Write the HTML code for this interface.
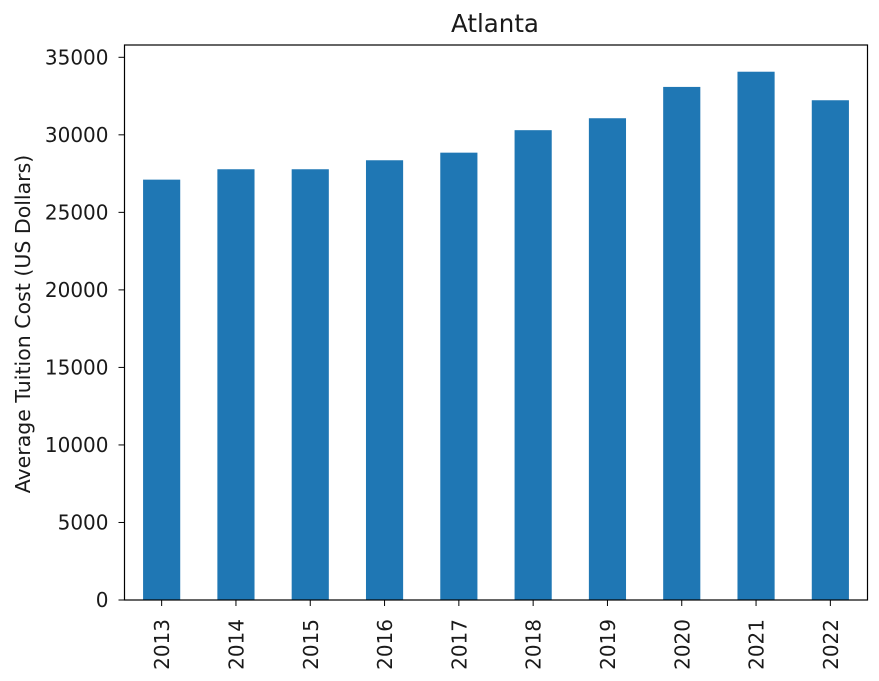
<!DOCTYPE html>
<html><head><meta charset="utf-8"><style>
body{margin:0;background:#fff}
text{font-family:"DejaVu Sans","Liberation Sans",sans-serif;fill:#1a1a1a}
</style></head><body>
<svg id="chart" width="879" height="676">
<text x="495" y="32" font-size="24.5" text-anchor="middle">Atlanta</text>
<text transform="translate(30,324) rotate(-90)" font-size="20.5" text-anchor="middle">Average Tuition Cost (US Dollars)</text>
<g id="bars"></g><g id="yticks"></g><g id="xticks"></g>
<rect x="124.5" y="45" width="743" height="555" fill="none" stroke="#000" stroke-width="1.2"/>
</svg>
<script>
const categories=["2013","2014","2015","2016","2017","2018","2019","2020","2021","2022"];
const tuition=[27110,27780,27780,28360,28850,30300,31070,33090,34070,32230];
const yTicks=[0,5000,10000,15000,20000,25000,30000,35000];
const L=124.5,R=867.5,B=600,T35=57.3;
const y=v=>B-(B-T35)*v/35000;
const step=(R-L)/categories.length;
const x=i=>L+step*(i+0.5);
const ns="http://www.w3.org/2000/svg";
function mk(t,a,p){const e=document.createElementNS(ns,t);for(const k in a)e.setAttribute(k,a[k]);p.appendChild(e);return e;}
const gb=document.getElementById('bars'),gy=document.getElementById('yticks'),gx=document.getElementById('xticks');
tuition.forEach((v,i)=>{
 const r=mk('rect',{x:x(i)-step/4,y:y(v),width:step/2,height:B-y(v),fill:'#1f77b4'},gb);
 
 
 const tk=mk('line',{x1:x(i),x2:x(i),y1:B,y2:B+6,stroke:'#000'},gx);
 
 
 const t=mk('text',{transform:`translate(${x(i)+7.5},${B+19}) rotate(-90)`,'font-size':'20','text-anchor':'end'},gx);
 t.textContent=categories[i];
 
 
});
yTicks.forEach(v=>{
 const tk=mk('line',{x1:L-6,x2:L,y1:y(v),y2:y(v),stroke:'#000'},gy);
 
 
 const t=mk('text',{x:L-16,y:y(v)+7,'font-size':'20','text-anchor':'end'},gy);
 t.textContent=v;
 
 
});
</script>
</body></html>
